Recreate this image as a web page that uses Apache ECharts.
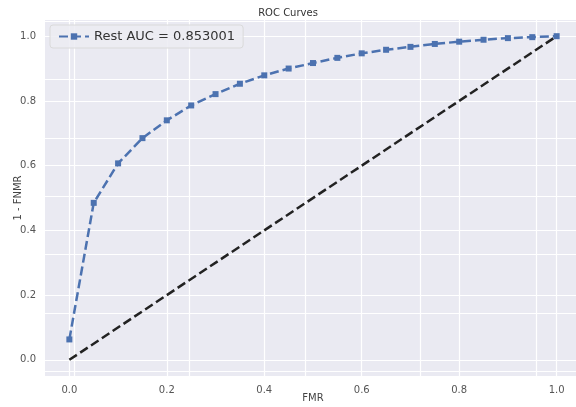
<!DOCTYPE html>
<html>
<head>
<meta charset="utf-8">
<script src="https://cdn.jsdelivr.net/npm/echarts@6/dist/echarts.min.js"></script>
<style>
  html, body { margin: 0; padding: 0; background: #fff; }
  #chart { width: 576px; height: 407px; }
</style>
</head>
<body>
<div id="chart"></div>
<script>
  // FMR values and 1 - FNMR values
  const fmr = [0, 0.05, 0.1, 0.15, 0.2, 0.25, 0.3, 0.35, 0.4, 0.45, 0.5,
    0.55, 0.6, 0.65, 0.7, 0.75, 0.8, 0.85, 0.9, 0.95, 1.0]
  const tpr = [0.063, 0.485, 0.607, 0.685, 0.74, 0.786, 0.821, 0.853, 0.879, 0.9, 0.917,
    0.933, 0.947, 0.958, 0.967, 0.976, 0.983, 0.989, 0.994, 0.997, 1.0]
  const chance = [[0, 0], [1, 1]]
  const tickValues = [0, 0.2, 0.4, 0.6, 0.8, 1.0]
  // the reference also shows a second, offset set of grid lines (overlaid axes)
  const ghostXTicks = [0, 0.2, 0.4, 0.6, 0.8]
  const ghostYTicks = [0, 0.2, 0.4, 0.6, 0.8, 1.0, 1.2]
  const seriesName = 'Rest AUC = 0.853001'

  let chart = echarts.init(document.getElementById('chart'))
  const font = 'DejaVu Sans'
  const labelFmt = v => v.toFixed(1)
  const gridLine = { show: true, lineStyle: { color: '#ffffff', width: 1.2 } }

  chart.setOption({
    backgroundColor: '#ffffff',
    animation: false,
    title: {
      text: 'ROC Curves',
      left: 283,
      top: 3,
      textAlign: 'center',
      textStyle: { fontFamily: font, fontSize: 10, fontWeight: 'normal', color: '#333' }
    },
    legend: {
      data: [seriesName],
      left: 50,
      top: 25,
      padding: [5, 8, 5, 8],
      itemWidth: 30,
      itemHeight: 8,
      backgroundColor: 'rgba(236,236,242,0.85)',
      borderColor: '#dadada',
      borderWidth: 1,
      borderRadius: 3,
      textStyle: { fontFamily: font, fontSize: 13, color: '#333' }
    },
    grid: {
      left: 45,
      top: 20,
      width: 536,
      height: 356,
      outerBoundsMode: 'none',
      containLabel: false,
      backgroundColor: '#eaeaf2',
      show: true,
      borderWidth: 0
    },
    xAxis: [
      {
        type: 'value',
        min: -0.05,
        max: 1.05,
        name: 'FMR',
        nameLocation: 'middle',
        nameGap: 17,
        nameMoveOverlap: false,
        nameTextStyle: { fontFamily: font, fontSize: 10, color: '#444' },
        axisLine: { show: false },
        axisTick: { show: false, customValues: tickValues },
        axisLabel: {
          customValues: tickValues,
          formatter: labelFmt,
          fontFamily: font, fontSize: 10, color: '#555', margin: 9
        },
        splitLine: gridLine
      },
      {
        type: 'value',
        position: 'bottom',
        min: -0.0502,
        max: 0.878,
        axisLine: { show: false },
        axisTick: { show: false, customValues: ghostXTicks },
        axisLabel: { show: false, customValues: ghostXTicks },
        splitLine: gridLine
      }
    ],
    yAxis: [
      {
        type: 'value',
        min: -0.05,
        max: 1.05,
        name: '1 - FNMR',
        nameLocation: 'middle',
        nameGap: 22,
        nameMoveOverlap: false,
        nameTextStyle: { fontFamily: font, fontSize: 10, color: '#444' },
        axisLine: { show: false },
        axisTick: { show: false, customValues: tickValues },
        axisLabel: {
          customValues: tickValues,
          formatter: labelFmt,
          fontFamily: font, fontSize: 10, color: '#555', margin: 9
        },
        splitLine: gridLine
      },
      {
        type: 'value',
        position: 'left',
        min: -0.0158,
        max: 1.2034,
        axisLine: { show: false },
        axisTick: { show: false, customValues: ghostYTicks },
        axisLabel: { show: false, customValues: ghostYTicks },
        splitLine: gridLine
      }
    ],
    series: [
      {
        name: seriesName,
        type: 'line',
        data: fmr.map((x, i) => [x, tpr[i]]),
        symbol: 'rect',
        symbolSize: 6,
        showSymbol: true,
        itemStyle: { color: '#4c72b0' },
        lineStyle: { color: '#4c72b0', width: 2.5, type: [9, 4] },
        z: 3
      },
      {
        name: 'chance',
        type: 'line',
        data: chance,
        symbol: 'none',
        lineStyle: { color: '#222222', width: 2.5, type: [9, 4] },
        z: 2
      }
    ]
  })
</script>
</body>
</html>
